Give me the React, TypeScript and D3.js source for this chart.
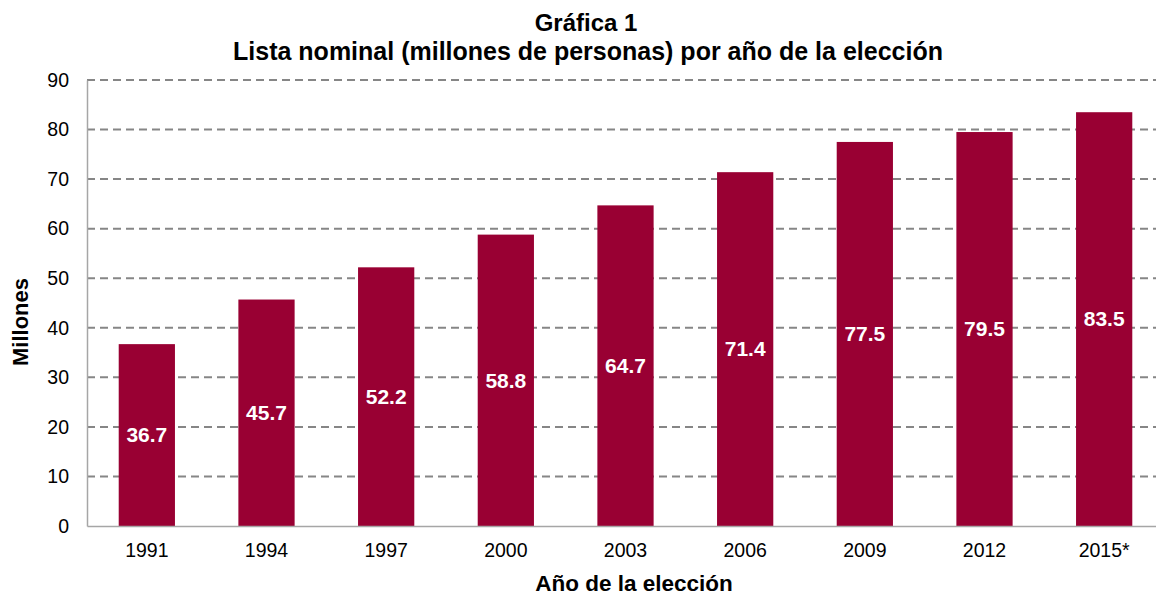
import React, { useEffect, useRef } from 'react';
import * as d3 from 'd3';

const years = ['1991', '1994', '1997', '2000', '2003', '2006', '2009', '2012', '2015*'];
const voters = [36.7, 45.7, 52.2, 58.8, 64.7, 71.4, 77.5, 79.5, 83.5];
const yTicks = [0, 10, 20, 30, 40, 50, 60, 70, 80, 90];

const titleLines = ['Gráfica 1', 'Lista nominal (millones de personas) por año de la elección'];
const barColor = '#990033';
const font = 'Liberation Sans, Arial, sans-serif';

const App = () => {
    const svgRef = useRef<SVGSVGElement>(null);
    const width = 1156;
    const height = 598;

    useEffect(() => {
        if (!svgRef.current) return;
        const svg = d3.select(svgRef.current);
        svg.selectAll('*').remove();

        const margin = { top: 80, right: -8, bottom: 72, left: 87 };
        const rows = years.map((year, i) => ({ year, value: voters[i] }));

        const x = d3.scaleBand()
            .domain(years)
            .range([margin.left, width - margin.right])
            .paddingInner(0.53)
            .paddingOuter(0.265);

        const y = d3.scaleLinear()
            .domain([0, 90])
            .range([height - margin.bottom, margin.top]);

        // Title
        svg.append('g')
            .selectAll('text')
            .data(titleLines)
            .join('text')
            .attr('x', (d, i) => (i === 0 ? 586 : 588))
            .attr('y', (d, i) => (i === 0 ? 31 : 60))
            .attr('text-anchor', 'middle')
            .style('font-family', font)
            .style('font-size', (d, i) => (i === 0 ? '24px' : '25px'))
            .style('font-weight', 'bold')
            .attr('fill', '#000')
            .text(d => d);

        // Gridlines
        svg.append('g')
            .selectAll('line')
            .data(yTicks.filter(t => t > 0))
            .join('line')
            .attr('x1', margin.left)
            .attr('x2', width)
            .attr('y1', d => y(d))
            .attr('y2', d => y(d))
            .attr('stroke', '#868686')
            .attr('stroke-width', 2)
            .attr('stroke-dasharray', '8,5');

        // Y axis
        svg.append('g')
            .attr('transform', `translate(${margin.left},0)`)
            .call(d3.axisLeft(y).tickValues(yTicks).tickSize(0).tickPadding(18))
            .call(g => g.select('.domain').attr('stroke', '#a6a6a6').attr('stroke-width', 1.5))
            .selectAll('text')
            .attr('fill', '#000')
            .style('font-family', font)
            .style('font-size', '19.5px');

        // Bars
        svg.append('g')
            .selectAll('rect')
            .data(rows)
            .join('rect')
            .attr('x', d => x(d.year) as number)
            .attr('y', d => y(d.value))
            .attr('width', x.bandwidth())
            .attr('height', d => y(0) - y(d.value))
            .attr('fill', barColor);

        // Bar labels
        svg.append('g')
            .selectAll('text')
            .data(rows)
            .join('text')
            .attr('x', d => (x(d.year) as number) + x.bandwidth() / 2)
            .attr('y', d => (y(0) + y(d.value)) / 2)
            .attr('dy', '0.35em')
            .attr('text-anchor', 'middle')
            .attr('fill', '#fff')
            .style('font-family', font)
            .style('font-size', '21px')
            .style('font-weight', 'bold')
            .text(d => d.value.toFixed(1));

        // X axis
        svg.append('g')
            .attr('transform', `translate(0,${y(0)})`)
            .call(d3.axisBottom(x).tickSize(0).tickPadding(17))
            .call(g => g.select('.domain').attr('stroke', '#a6a6a6').attr('stroke-width', 1.5))
            .selectAll('text')
            .attr('fill', '#000')
            .style('font-family', font)
            .style('font-size', '19.5px');

        // Axis titles
        svg.append('text')
            .attr('x', 634)
            .attr('y', 591)
            .attr('text-anchor', 'middle')
            .style('font-family', font)
            .style('font-size', '22.5px')
            .style('font-weight', 'bold')
            .text('Año de la elección');

        svg.append('text')
            .attr('transform', 'translate(28,322) rotate(-90)')
            .attr('text-anchor', 'middle')
            .style('font-family', font)
            .style('font-size', '22px')
            .style('font-weight', 'bold')
            .text('Millones');
    }, []);

    return (
        <svg
            ref={svgRef}
            width={width}
            height={height}
            style={{ position: 'absolute', left: 0, top: 0, background: '#fff' }}
        />
    );
};

export default App;
